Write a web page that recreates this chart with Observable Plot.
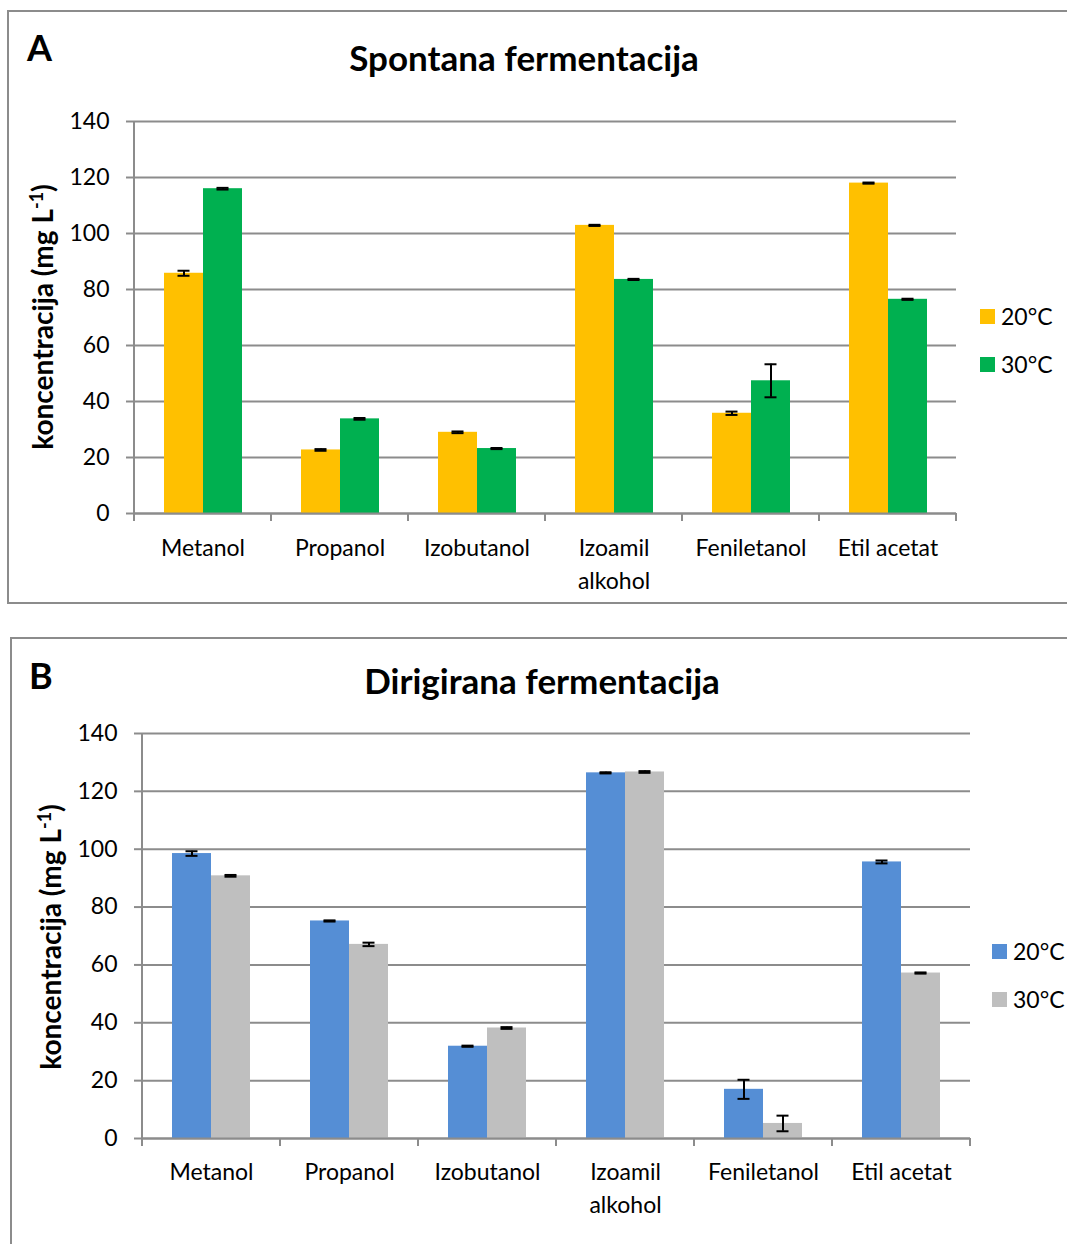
<!DOCTYPE html>
<html>
<head>
<meta charset="utf-8">
<script src="https://cdn.jsdelivr.net/npm/d3@7"></script>
<script src="https://cdn.jsdelivr.net/npm/@observablehq/plot@0.6"></script>
<style>
  html, body { margin: 0; padding: 0; background: #fff; }
  body { position: relative; width: 1067px; height: 1244px; overflow: hidden; font-family: Lato, "Open Sans", sans-serif; color: #000; }
  .panel { position: absolute; border: 2px solid #8c8c8c; box-sizing: border-box; background: #fff; }
  .abs { position: absolute; white-space: nowrap; line-height: 1; }
  .letter { font-weight: 700; font-size: 36px; }
  .title { font-weight: 700; font-size: 35px; transform: translateX(-50%); }
  .ylab { font-weight: 700; font-size: 28px; transform: translate(-50%, -50%) rotate(-90deg); }
  .ylab sup { font-size: 18px; vertical-align: 0.55em; line-height: 0; }
  .legend-item { position: absolute; display: flex; align-items: center; font-size: 23px; line-height: 1; }
  .swatch { width: 15px; height: 15px; margin-right: 6px; }
  .chart { position: absolute; left: 0; }
</style>
</head>
<body>
<div class="panel" style="left:7px; top:10px; width:1080px; height:594px;"></div>
<div class="panel" style="left:10px; top:637px; width:1080px; height:640px;"></div>

<div class="abs letter" style="left:27px; top:29px;">A</div>
<div class="abs title" style="left:524px; top:40px;">Spontana fermentacija</div>
<div class="abs ylab" style="left:42px; top:317px;">koncentracija (mg L<sup>-1</sup>)</div>
<div id="chartA" class="chart" style="top:90px;"></div>
<div id="legendA"></div>

<div class="abs letter" style="left:29px; top:657px;">B</div>
<div class="abs title" style="left:542px; top:663px;">Dirigirana fermentacija</div>
<div class="abs ylab" style="left:50px; top:937px;">koncentracija (mg L<sup>-1</sup>)</div>
<div id="chartB" class="chart" style="top:700px;"></div>
<div id="legendB"></div>

<script>
// ---- data ----
const categories = ["Metanol", "Propanol", "Izobutanol", "Izoamil alkohol", "Feniletanol", "Etil acetat"];
const series = ["20°C", "30°C"];
const yTicks = [0, 20, 40, 60, 80, 100, 120, 140];

// A: Spontana fermentacija
const spontana20 = [85.8, 22.7, 29.0, 102.9, 35.8, 118.0];
const spontana30 = [116.0, 33.8, 23.2, 83.6, 47.4, 76.5];
const spontana20Err = [0.9, 0.3, 0.3, 0.2, 0.6, 0.2];
const spontana30Err = [0.3, 0.3, 0.2, 0.2, 5.9, 0.2];
const spontanaColors = ["#FFC000", "#00B050"];

// B: Dirigirana fermentacija
const dirigirana20 = [98.5, 75.2, 31.9, 126.4, 17.0, 95.6];
const dirigirana30 = [90.8, 67.1, 38.2, 126.7, 5.2, 57.2];
const dirigirana20Err = [0.8, 0.2, 0.2, 0.2, 3.3, 0.5];
const dirigirana30Err = [0.3, 0.6, 0.3, 0.3, 2.7, 0.2];
const dirigiranaColors = ["#558ED5", "#BFBFBF"];

const gridColor = "#8c8c8c";

function buildRows(v20, v30, e20, e30) {
  const rows = [];
  categories.forEach((c, i) => {
    rows.push({category: c, series: series[0], value: v20[i], err: e20[i]});
    rows.push({category: c, series: series[1], value: v30[i], err: e30[i]});
  });
  return rows;
}

function makeChart(container, rows, colors, cfg) {
  const chart = Plot.plot({
    width: cfg.width,
    height: cfg.height,
    marginLeft: cfg.marginLeft,
    marginRight: cfg.marginRight,
    marginTop: cfg.marginTop,
    marginBottom: cfg.marginBottom,
    style: {fontFamily: "Lato, 'Open Sans', sans-serif", fontSize: "23px", color: "#000", background: "transparent", overflow: "visible"},
    fx: {domain: categories, padding: 0, label: null},
    x: {domain: series, paddingInner: 0, paddingOuter: 0.75, axis: null},
    y: {domain: [0, 140], axis: null},
    color: {domain: series, range: colors},
    marks: [
      Plot.gridY(yTicks, {stroke: gridColor, strokeOpacity: 1, strokeWidth: 2}),
      Plot.barY(rows, {fx: "category", x: "series", y: "value", fill: "series"}),
      Plot.ruleX(rows, {fx: "category", x: "series", y1: d => d.value - d.err, y2: d => d.value + d.err, stroke: "#000", strokeWidth: 2}),
      Plot.tickY(rows, {fx: "category", x: "series", y: d => d.value + d.err, stroke: "#000", strokeWidth: 2, insetLeft: 13.5, insetRight: 13.5}),
      Plot.tickY(rows, {fx: "category", x: "series", y: d => d.value - d.err, stroke: "#000", strokeWidth: 2, insetLeft: 13.5, insetRight: 13.5}),
      Plot.ruleY([0], {stroke: gridColor, strokeWidth: 2}),
      Plot.axisY(yTicks, {anchor: "left", tickSize: 8, tickPadding: 17, stroke: gridColor, strokeWidth: 2, label: null, fill: "#000"}),
      Plot.axisFx({anchor: "bottom", tickSize: 0, tickPadding: cfg.labelPad, label: null, fill: "#000", lineHeight: 1.4,
                   tickFormat: d => d.replace(" alkohol", "\nalkohol")})
    ]
  });
  // y-axis line and category boundary ticks, positioned through the plot's scales
  const fx = chart.scale("fx");
  const y = chart.scale("y");
  const svg = d3.select(chart);
  const y0 = y.apply(0);
  const yTop = y.apply(140);
  const xs = categories.map(c => fx.apply(c));
  xs.push(xs[xs.length - 1] + fx.bandwidth);
  const g = svg.append("g").attr("stroke", gridColor).attr("stroke-width", 2);
  g.append("line").attr("x1", xs[0]).attr("x2", xs[0]).attr("y1", yTop).attr("y2", y0 + 8);
  xs.forEach(x => g.append("line").attr("x1", x).attr("x2", x).attr("y1", y0).attr("y2", y0 + 8));
  document.getElementById(container).appendChild(chart);
}

function makeLegend(container, colors, left, tops) {
  const el = document.getElementById(container);
  series.forEach((s, i) => {
    const item = document.createElement("div");
    item.className = "legend-item";
    item.style.left = left + "px";
    item.style.top = tops[i] + "px";
    const sw = document.createElement("div");
    sw.className = "swatch";
    sw.style.background = colors[i];
    const tx = document.createElement("span");
    tx.textContent = s;
    item.appendChild(sw);
    item.appendChild(tx);
    el.appendChild(item);
  });
}

makeChart("chartA", buildRows(spontana20, spontana30, spontana20Err, spontana30Err), spontanaColors,
  {width: 1000, height: 520, marginLeft: 133, marginRight: 44, marginTop: 31, marginBottom: 97, labelPad: 20});
makeChart("chartB", buildRows(dirigirana20, dirigirana30, dirigirana20Err, dirigirana30Err), dirigiranaColors,
  {width: 1010, height: 540, marginLeft: 140, marginRight: 39, marginTop: 33, marginBottom: 102, labelPad: 19});

makeLegend("legendA", spontanaColors, 980, [305, 353]);
makeLegend("legendB", dirigiranaColors, 992, [940, 988]);
</script>
</body>
</html>
